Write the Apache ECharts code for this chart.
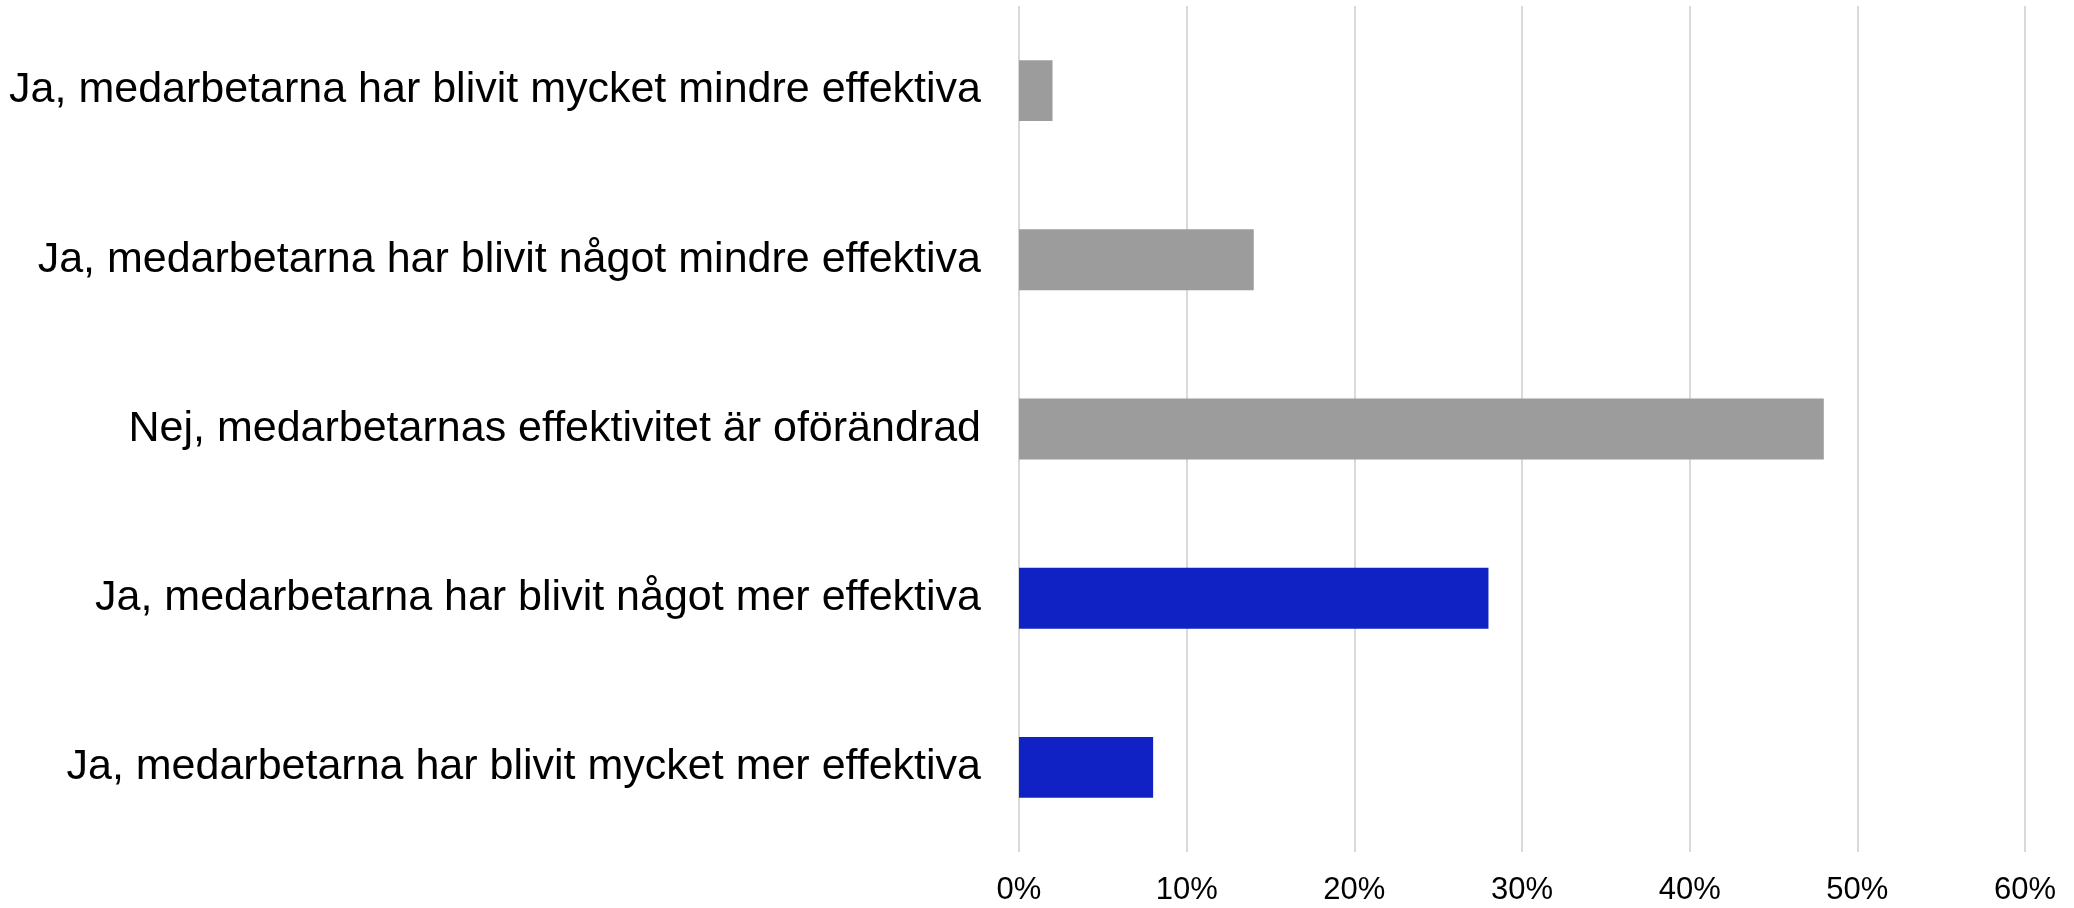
<!DOCTYPE html>
<html>
<head>
<meta charset="utf-8">
<script src="https://cdn.jsdelivr.net/npm/echarts@6/dist/echarts.min.js"></script>
<style>
  html, body { margin: 0; padding: 0; background: #fff; }
  #chart { width: 2074px; height: 908px; }
</style>
</head>
<body>
<div id="chart"></div>
<script>
// svarsalternativ, uppifrån och ned
var categories = [
  'Ja, medarbetarna har blivit mycket mindre effektiva',
  'Ja, medarbetarna har blivit något mindre effektiva',
  'Nej, medarbetarnas effektivitet är oförändrad',
  'Ja, medarbetarna har blivit något mer effektiva',
  'Ja, medarbetarna har blivit mycket mer effektiva'
];
// andel (%)
var values = [2, 14, 48, 28, 8];
// positiva svar (färgas blå)
var positive = [false, false, false, true, true];

var chart = echarts.init(document.getElementById('chart'));

var option = {
  backgroundColor: '#fff',
  animation: false,
  grid: {
    left: 1019,
    right: 49,
    top: 6,
    bottom: 56,
    containLabel: false
  },
  xAxis: {
    type: 'value',
    min: 0,
    max: 60,
    interval: 10,
    axisLine: { show: false },
    axisTick: { show: false },
    splitLine: {
      show: true,
      lineStyle: { color: '#d9d9d9', width: 2 }
    },
    axisLabel: {
      margin: 23,
      fontSize: 31,
      color: '#000',
      fontFamily: 'Liberation Sans, Arial, sans-serif',
      formatter: '{value}%'
    }
  },
  yAxis: {
    type: 'category',
    data: categories,
    inverse: true,
    axisLine: { show: false },
    axisTick: { show: false },
    splitLine: { show: false },
    axisLabel: {
      margin: 38,
      fontSize: 43,
      color: '#000',
      fontFamily: 'Liberation Sans, Arial, sans-serif'
    }
  },
  series: [{
    type: 'bar',
    barWidth: '36%',
    data: values,
    itemStyle: {
      color: function (p) {
        return positive[p.dataIndex] ? '#1022c3' : '#9c9c9c';
      }
    }
  }]
};

chart.setOption(option);
</script>
</body>
</html>
